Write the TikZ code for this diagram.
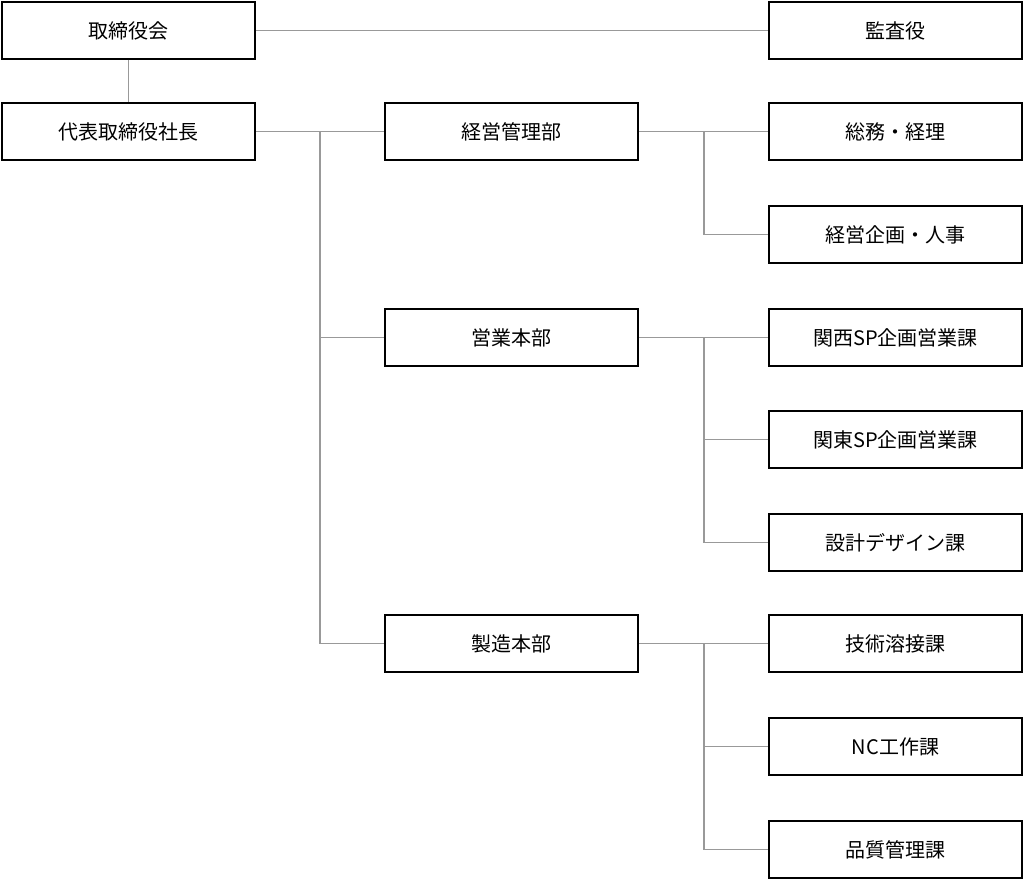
\documentclass[tikz,border=0pt]{standalone}
\usepackage{fontspec}
\setmainfont{Noto Sans CJK JP}
\begin{document}
\begin{tikzpicture}[x=1pt,y=-1pt,
  box/.style={draw=black,line width=1.5pt,minimum width=253pt,minimum height=57pt,inner sep=0pt,font=\fontsize{20}{24}\selectfont},
  ln/.style={draw=gray!80,line width=1.5pt}]
\useasboundingbox (0,0) rectangle (1024,879);
\fill[white] (0,0) rectangle (1024,879);
\node[box] (tori) at (128.5,30.5) {取締役会};
\node[box] (kansa) at (895.5,30.5) {監査役};
\node[box] (rep) at (128.5,131.5) {代表取締役社長};
\node[box] (kk) at (511.5,131.5) {経営管理部};
\node[box] (eg) at (511.5,337.5) {営業本部};
\node[box] (sz) at (511.5,643.5) {製造本部};
\node[box] (a1) at (895.5,131.5) {総務・経理};
\node[box] (a2) at (895.5,234.5) {経営企画・人事};
\node[box] (b1) at (895.5,337.5) {関西SP企画営業課};
\node[box] (b2) at (895.5,439.5) {関東SP企画営業課};
\node[box] (b3) at (895.5,542.5) {設計デザイン課};
\node[box] (c1) at (895.5,643.5) {技術溶接課};
\node[box] (c2) at (895.5,746.5) {NC工作課};
\node[box] (c3) at (895.5,849.5) {品質管理課};
\coordinate (t) at (320,0);
\coordinate (u) at (704,0);
\draw[ln] (tori.south) -- (rep.north);
\draw[ln] (tori.east) -- (kansa.west);
\draw[ln] (rep.east) -- (kk.west);
\draw[ln] (t |- rep) |- (sz.west);
\draw[ln] (t |- eg) -- (eg.west);
\draw[ln] (kk.east) -- (a1.west);
\draw[ln] (u |- kk) |- (a2.west);
\draw[ln] (eg.east) -- (b1.west);
\draw[ln] (u |- eg) |- (b3.west);
\draw[ln] (u |- b2) -- (b2.west);
\draw[ln] (sz.east) -- (c1.west);
\draw[ln] (u |- sz) |- (c3.west);
\draw[ln] (u |- c2) -- (c2.west);
\end{tikzpicture}
\end{document}
